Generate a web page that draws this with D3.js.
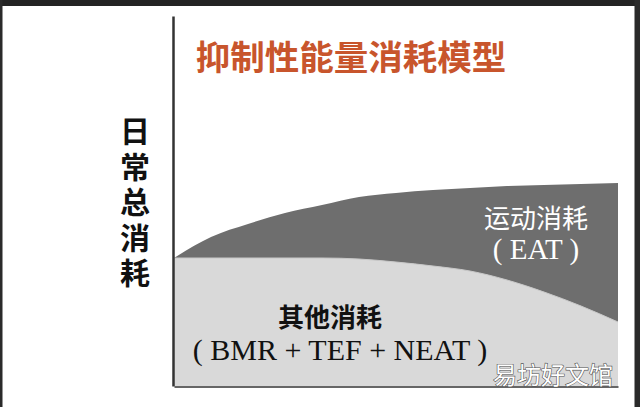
<!DOCTYPE html>
<html><head><meta charset="utf-8">
<script src="https://cdn.jsdelivr.net/npm/d3@7"></script>
<style>html,body{margin:0;padding:0;background:#fff;}svg{display:block;}</style>
</head><body>
<svg id="c" width="640" height="407"></svg>
<script>
// Data (arbitrary energy units over time steps)
const steps = [0,1,2,3,4,5,6,7,8,9,10,11,12];
const otherBurn = [128,128,128,128,128,127,124,120,115,106,94,80,64];   // 其他消耗 (BMR+TEF+NEAT)
const eatBurn   = [0,21,34,45,53,62,69,76,83,94,107,122,139];          // 运动消耗 (EAT)
const title = "抑制性能量消耗模型";
const yLabel = "日常总消耗";
const eatLabel = ["运动消耗","( EAT )"];
const otherLabel = ["其他消耗","( BMR + TEF + NEAT )"];
const watermark = "易坊好文馆";

const SERIF = "Liberation Serif, DejaVu Serif, serif";
const svg = d3.select("#c");
const W = 640, H = 407;
const x = d3.scaleLinear().domain([0,12]).range([174,618]);
const y = d3.scaleLinear().domain([0,250]).range([386,136]);

// frame
svg.append("rect").attr("x",0).attr("y",0).attr("width",W).attr("height",H).attr("fill","#fff");
svg.append("rect").attr("x",0).attr("y",0).attr("width",W).attr("height",6).attr("fill","#232323");
svg.append("rect").attr("x",0).attr("y",0).attr("width",2.5).attr("height",H).attr("fill","#2a2a2a");
svg.append("rect").attr("x",634.5).attr("y",0).attr("width",6).attr("height",H).attr("fill","#2a2a2a");

const data = steps.map((s,i)=>({t:s, other:otherBurn[i], eat:eatBurn[i]}));
const stack = d3.stack().keys(["other","eat"])(data);
const area = d3.area().curve(d3.curveMonotoneX)
  .x(d=>x(d.data.t)).y0(d=>y(d[0])).y1(d=>y(d[1]));
const fills = {other:"#d9d9d9", eat:"#6e6e6e"};
svg.selectAll("path.layer").data(stack).join("path")
  .attr("class","layer").attr("d",area).attr("fill",d=>fills[d.key]);

svg.append("path")
  .attr("d", d3.line().curve(d3.curveMonotoneX).x(d=>x(d.t)).y(d=>y(d.other))(data))
  .attr("fill","none").attr("stroke","#c8c8c8").attr("stroke-width",1);

// axes
const xAxis = d3.axisBottom(x).tickValues([]).tickSizeOuter(0);
svg.append("g").attr("transform","translate(0,386.5)").call(xAxis)
  .select(".domain").attr("stroke","#666").attr("stroke-width",2);
const yAxis = d3.axisLeft(d3.scaleLinear().domain([0,1]).range([386,16])).tickValues([]).tickSizeOuter(0);
svg.append("g").attr("transform","translate(173,0)").call(yAxis)
  .select(".domain").attr("stroke","#333").attr("stroke-width",2.5);

// title
svg.append("text").attr("x",351).attr("y",70).attr("text-anchor","middle")
  .attr("font-family","Noto Sans CJK SC").attr("font-weight","bold").attr("font-size",34.5)
  .attr("fill","#c8552c").text(title);

// y label vertical
svg.append("text").attr("x",135).attr("y",116)
  .attr("writing-mode","vertical-rl").style("text-orientation","upright").attr("letter-spacing",5.5)
  .attr("font-family","Noto Sans CJK SC").attr("font-weight","bold").attr("font-size",30)
  .attr("fill","#111").text(yLabel);

// EAT label
svg.append("text").attr("x",536).attr("y",228).attr("text-anchor","middle")
  .attr("font-family","Noto Sans CJK SC").attr("font-size",26).attr("fill","#fff").text(eatLabel[0]);
svg.append("text").attr("x",536).attr("y",259).attr("text-anchor","middle")
  .style("font-family",SERIF).attr("font-size",29).attr("fill","#fff").text(eatLabel[1]);

// Other label
svg.append("text").attr("x",330).attr("y",327).attr("text-anchor","middle")
  .attr("font-family","Noto Sans CJK SC").attr("font-weight","bold").attr("font-size",26).attr("fill","#111").text(otherLabel[0]);
svg.append("text").attr("x",340).attr("y",360).attr("text-anchor","middle")
  .style("font-family",SERIF).attr("font-size",30).attr("fill","#111").text(otherLabel[1]);

// watermark
svg.append("text").attr("x",553).attr("y",384).attr("text-anchor","middle")
  .attr("font-family","Noto Sans CJK SC").attr("font-size",24).attr("fill","#fff")
  .attr("stroke","#555").attr("stroke-width",1.2).attr("paint-order","stroke").text(watermark);
</script>
</body></html>
